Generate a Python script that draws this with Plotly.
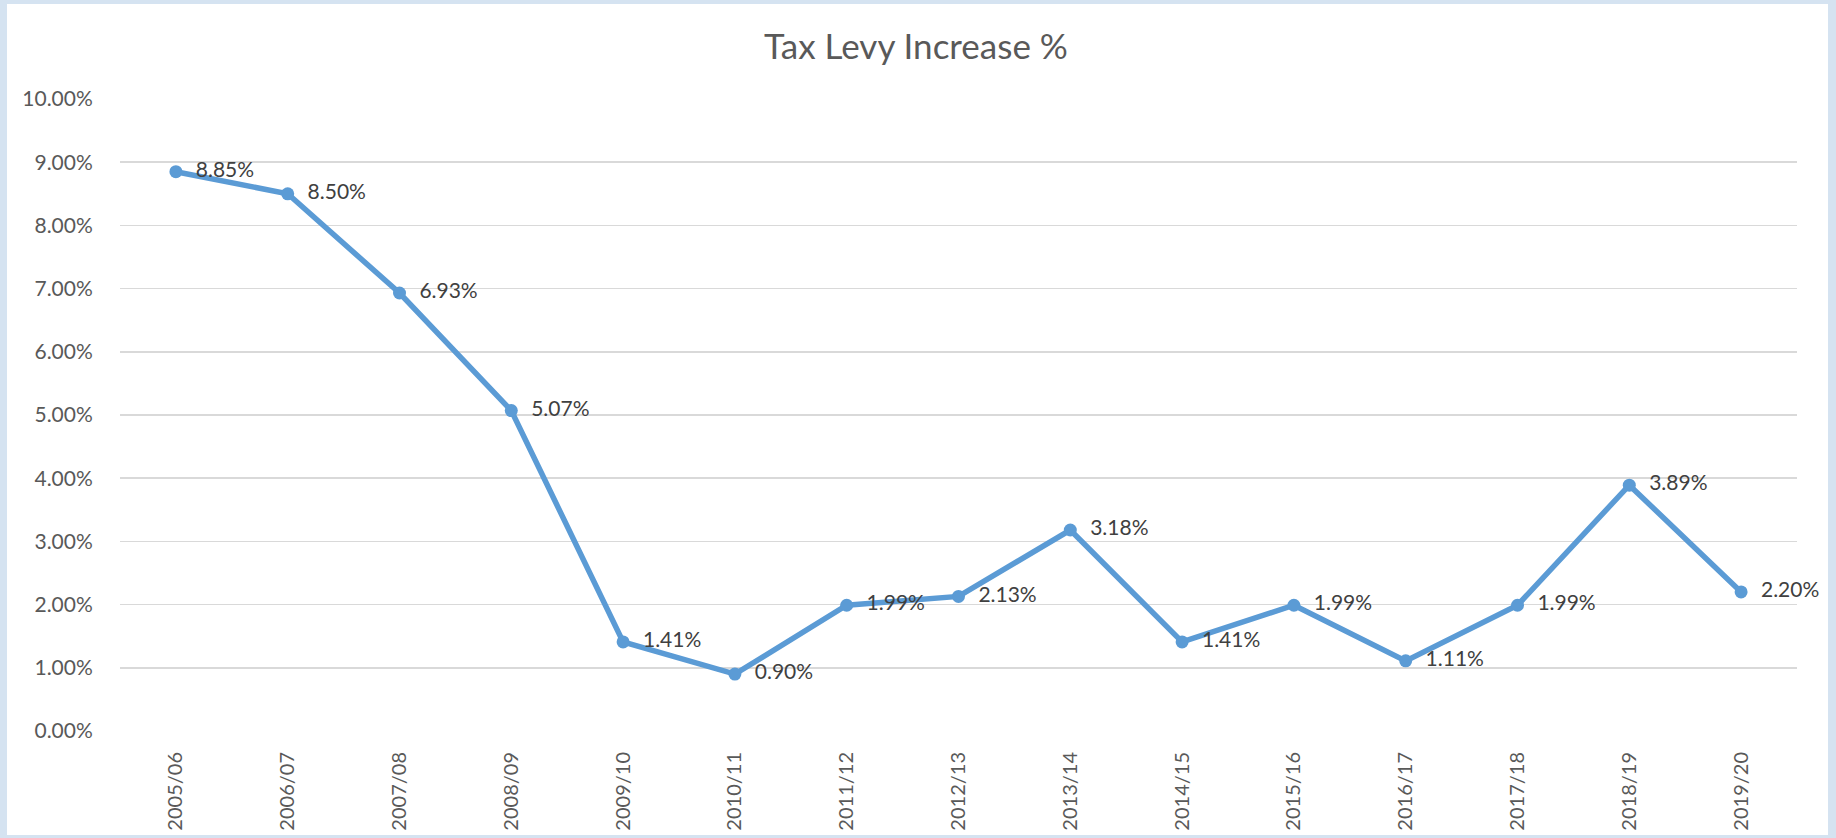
import plotly.graph_objects as go

years = ["2005/06", "2006/07", "2007/08", "2008/09", "2009/10", "2010/11", "2011/12",
         "2012/13", "2013/14", "2014/15", "2015/16", "2016/17", "2017/18", "2018/19", "2019/20"]
levy_pct = [8.85, 8.50, 6.93, 5.07, 1.41, 0.90, 1.99, 2.13, 3.18, 1.41, 1.99, 1.11, 1.99, 3.89, 2.20]
y_ticks = [0, 1, 2, 3, 4, 5, 6, 7, 8, 9, 10]

W, H = 1836, 838
L, R, T, B = 120, 39, 99, 107
pw, ph = W - L - R, H - T - B
FONT = "Lato, Calibri, sans-serif"

def px_x(p):
    return (p - L) / pw

def px_y(p):
    return (H - B - p) / ph

fig = go.Figure()
fig.add_trace(go.Scatter(
    x=list(range(len(years))), y=levy_pct,
    mode="lines+markers+text",
    line=dict(color="#5b9bd5", width=5.5),
    marker=dict(color="#5b9bd5", size=13),
    text=[f"{v:.2f}%" for v in levy_pct],
    texttemplate="  %{text}",
    textposition="middle right",
    textfont=dict(family=FONT, size=21, color="#404040"),
    cliponaxis=False,
    hoverinfo="skip",
))

fig.add_shape(type="rect", xref="paper", yref="paper",
              x0=px_x(7), x1=px_x(1828), y0=px_y(835), y1=px_y(4),
              fillcolor="white", line=dict(width=0), layer="below")

fig.update_layout(
    width=W, height=H,
    margin=dict(l=L, r=R, t=T, b=B, autoexpand=False),
    paper_bgcolor="#d5e3f1",
    plot_bgcolor="rgba(0,0,0,0)",
    showlegend=False,
    title=dict(text="Tax Levy Increase %", x=916 / W, xref="container", xanchor="center",
               y=1 - 47 / H, yref="container", yanchor="middle",
               font=dict(family=FONT, size=35, color="#595959")),
    font=dict(family=FONT, size=20, color="#595959"),
)

fig.update_xaxes(
    range=[-0.5, len(years) - 0.5],
    tickmode="array", tickvals=list(range(len(years))), ticktext=years,
    tickangle=-90, showgrid=False, zeroline=False, showline=False,
    ticks="outside", ticklen=12, tickcolor="rgba(0,0,0,0)",
    tickfont=dict(family=FONT, size=20, color="#595959"),
    fixedrange=True,
)
fig.update_yaxes(
    range=[0, 10], tickmode="array", tickvals=y_ticks,
    ticktext=[f"{v:.2f}%" for v in y_ticks],
    showgrid=True, gridcolor="#d9d9d9", gridwidth=1.5,
    zeroline=False, showline=False,
    ticks="outside", ticklen=22, tickcolor="rgba(0,0,0,0)",
    tickfont=dict(family=FONT, size=21, color="#595959"),
    fixedrange=True,
)

fig.write_html("out.html",
               config={"displayModeBar": False, "staticPlot": True},
               post_script="document.body.style.margin='0';document.body.style.overflow='hidden';")
